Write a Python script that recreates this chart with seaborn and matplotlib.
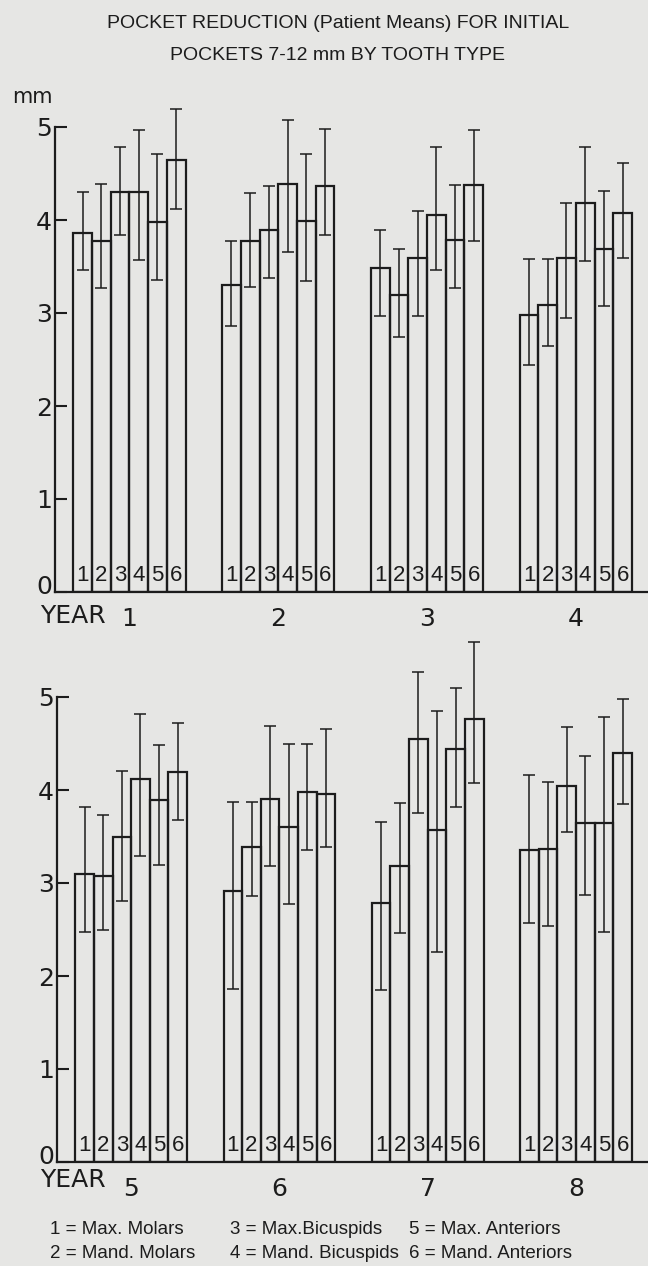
import matplotlib
matplotlib.use("Agg")
import matplotlib.pyplot as plt
from matplotlib.container import BarContainer
import seaborn as sns
import pandas as pd

# ---------------- data ----------------
years = ["1", "2", "3", "4", "5", "6", "7", "8"]
teeth = ["1", "2", "3", "4", "5", "6"]
tooth_names = ["Max. Molars", "Mand. Molars", "Max.Bicuspids",
               "Mand. Bicuspids", "Max. Anteriors", "Mand. Anteriors"]

means = [
    [3.86, 3.77, 4.30, 4.30, 3.98, 4.65],
    [3.30, 3.77, 3.89, 4.39, 3.99, 4.37],
    [3.48, 3.19, 3.59, 4.05, 3.78, 4.38],
    [2.98, 3.09, 3.59, 4.18, 3.69, 4.08],
    [3.10, 3.08, 3.50, 4.12, 3.89, 4.19],
    [2.91, 3.39, 3.90, 3.60, 3.98, 3.96],
    [2.78, 3.18, 4.55, 3.57, 4.44, 4.76],
    [3.35, 3.37, 4.04, 3.65, 3.65, 4.40],
]
err_upper = [
    [4.30, 4.39, 4.78, 4.97, 4.71, 5.19],
    [3.77, 4.29, 4.37, 5.07, 4.71, 4.98],
    [3.89, 3.69, 4.10, 4.78, 4.38, 4.97],
    [3.58, 3.58, 4.18, 4.79, 4.31, 4.61],
    [3.82, 3.73, 4.20, 4.82, 4.48, 4.72],
    [3.87, 3.87, 4.69, 4.50, 4.50, 4.66],
    [3.66, 3.86, 5.27, 4.85, 5.10, 5.59],
    [4.16, 4.09, 4.68, 4.37, 4.78, 4.98],
]
err_lower = [
    [3.46, 3.27, 3.84, 3.57, 3.35, 4.12],
    [2.86, 3.28, 3.38, 3.66, 3.34, 3.84],
    [2.97, 2.74, 2.97, 3.46, 3.27, 3.77],
    [2.44, 2.64, 2.95, 3.56, 3.07, 3.59],
    [2.47, 2.50, 2.81, 3.29, 3.19, 3.68],
    [1.86, 2.86, 3.18, 2.77, 3.36, 3.39],
    [1.85, 2.46, 3.75, 2.26, 3.82, 4.08],
    [2.57, 2.54, 3.55, 2.87, 2.47, 3.85],
]
y_ticks = [0, 1, 2, 3, 4, 5]
title_lines = ["POCKET REDUCTION (Patient Means) FOR INITIAL",
               "POCKETS 7-12 mm BY TOOTH TYPE"]

# ---------------- style ----------------
sns.set_theme(style="white")
BG = "#e6e6e4"
INK = "#1c1c1c"
plt.rcParams["font.family"] = ["DejaVu Sans"]
NARROW = ["Liberation Sans", "DejaVu Sans"]

rows = []
for yi, yr in enumerate(years):
    for ti, tt in enumerate(teeth):
        rows.append({"year": yr, "tooth": tt, "mean": means[yi][ti],
                     "lo": err_lower[yi][ti], "hi": err_upper[yi][ti]})
df = pd.DataFrame(rows)

W, H = 648, 1266
fig = plt.figure(figsize=(W / 100, H / 100), dpi=100, facecolor=BG)

def px_axes(left, base, width, ymax, ppu):
    height = ymax * ppu
    return fig.add_axes([left / W, (H - base) / H, width / W, height / H])

panels = [
    (years[:4], px_axes(55, 592, 593, 5.8, 93.0), 616),
    (years[4:], px_axes(57, 1162, 591, 5.8, 93.0), 1180),
]

for pyears, ax, ylab in panels:
    ax.set_facecolor("none")
    sub = df[df["year"].isin(pyears)]
    sns.barplot(data=sub, x="year", y="mean", hue="tooth", order=pyears,
                hue_order=teeth, palette=[INK] * 6, fill=False,
                width=0.754, gap=0, linewidth=1.6, errorbar=None,
                legend=False, ax=ax)
    bar_conts = [c for c in ax.containers if isinstance(c, BarContainer)]
    for ti, cont in enumerate(bar_conts):
        for k, patch in enumerate(cont.patches):
            yr = pyears[k]
            row = sub[(sub["year"] == yr) & (sub["tooth"] == teeth[ti])].iloc[0]
            xc = patch.get_x() + patch.get_width() / 2
            ax.errorbar([xc], [row["mean"]],
                        yerr=[[row["mean"] - row["lo"]], [row["hi"] - row["mean"]]],
                        fmt="none", ecolor=INK, elinewidth=1.1, capsize=4.6,
                        capthick=1.1, clip_on=False)
            ax.annotate(teeth[ti], xy=(xc, 0), xytext=(0, 4.5),
                        textcoords="offset points", ha="center", va="bottom",
                        fontsize=16, family=NARROW, color=INK)
    ax.set_xlim(-0.5, 3.485)
    ax.set_ylim(0, 5.8)
    ax.set_yticks(y_ticks)
    ax.set_yticklabels(["" if t == 0 else str(t) for t in y_ticks])
    # the zero label sits a little above the baseline in the original
    ax.annotate("0", xy=(0, 0), xycoords=("axes fraction", "data"),
                xytext=(-2, 3.6), textcoords="offset points",
                ha="right", va="center", fontsize=18, color=INK)
    ax.set_xticks(range(len(pyears)))
    ax.set_xticklabels(pyears)
    ax.set_xlabel("")
    ax.set_ylabel("")
    for s in ["top", "right"]:
        ax.spines[s].set_visible(False)
    ax.spines["left"].set_bounds(0, 5)
    for s in ["left", "bottom"]:
        ax.spines[s].set_color(INK)
        ax.spines[s].set_linewidth(1.6)
    ax.tick_params(axis="y", direction="in", length=8.6, width=1.5,
                   color=INK, labelsize=18, pad=2, labelcolor=INK, left=True)
    ax.tick_params(axis="x", length=0, labelsize=18, pad=11, labelcolor=INK,
                   bottom=True)
    fig.text(40 / W, 1 - ylab / H, "YEAR", ha="left", va="center",
             fontsize=18, color=INK)

# "mm" unit label
fig.text(32 / W, 1 - 97 / H, "mm", ha="center", va="center", fontsize=15,
         color=INK)

# title
fig.text(338 / W, 1 - 24 / H, title_lines[0], ha="center", va="center",
         fontsize=14, family=NARROW, color=INK)
fig.text(337 / W, 1 - 55 / H, title_lines[1], ha="center", va="center",
         fontsize=14, family=NARROW, color=INK)

# key
col_x = [50, 230, 409]
row_y = [1229, 1254]
for ti, name in enumerate(tooth_names):
    c, r = ti // 2, ti % 2
    fig.text(col_x[c] / W, 1 - row_y[r] / H, f"{teeth[ti]} = {name}",
             ha="left", va="center", fontsize=13.5, family=NARROW, color=INK)

fig.savefig("out.png", dpi=100, facecolor=BG)
